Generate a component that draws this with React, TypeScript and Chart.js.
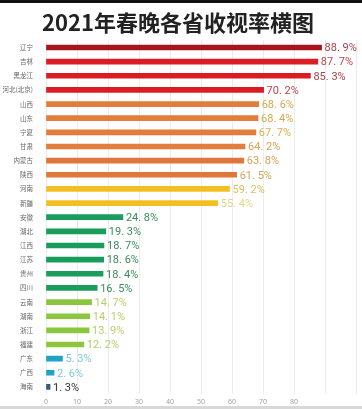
import React, { useEffect, useRef } from "react";
import { Chart, registerables } from "chart.js";

Chart.register(...registerables);

const categories = [
  "辽宁", "吉林", "黑龙江", "河北(北京)", "山西", "山东", "宁夏", "甘肃", "内蒙古", "陕西",
  "河南", "新疆", "安徽", "湖北", "江西", "江苏", "贵州", "四川", "云南", "湖南",
  "浙江", "福建", "广东", "广西", "海南",
];

const values = [
  88.9, 87.7, 85.3, 70.2, 68.6, 68.4, 67.7, 64.2, 63.8, 61.5,
  59.2, 55.4, 24.8, 19.3, 18.7, 18.6, 18.4, 16.5, 14.7, 14.1,
  13.9, 12.2, 5.3, 2.6, 1.3,
];

const valueLabels = [
  "88. 9%", "87. 7%", "85. 3%", "70. 2%", "68. 6%", "68. 4%", "67. 7%", "64. 2%", "63. 8%", "61. 5%",
  "59. 2%", "55. 4%", "24. 8%", "19. 3%", "18. 7%", "18. 6%", "18. 4%", "16. 5%", "14. 7%", "14. 1%",
  "13. 9%", "12. 2%", "5. 3%", "2. 6%", "1. 3%",
];

const barColors = [
  "#a8141c", "#dc1c24", "#dc1c24", "#dc1c24",
  "#e27d3c", "#e27d3c", "#e27d3c", "#e27d3c", "#e0763a", "#e0763a",
  "#f2c024", "#f2c024",
  "#1a9c5c", "#1a9c5c", "#1a9c5c", "#1a9c5c", "#1a9c5c", "#1a9c5c",
  "#8cc63f", "#8cc63f", "#8cc63f", "#8cc63f",
  "#1fa2c8", "#1fa2c8", "#3c5a78",
];

const labelColors = [
  "#a8404c", "#b8444c", "#a8404c", "#b8444c",
  "#d8a848", "#d8a848", "#d8b050", "#d4a450", "#d4a450", "#d0a458",
  "#d8c060", "#e4d48c",
  "#3a8c5c", "#3a8c5c", "#3a8c5c", "#3a8c5c", "#3a8c5c", "#3a8c5c",
  "#b4d06a", "#b4d06a", "#b4d06a", "#b4d06a",
  "#7cc8e0", "#7cc8e0", "#333333",
];

const xTicks = [0, 10, 20, 30, 40, 50, 60, 70, 80, 90, 100];

const titleText = "2021年春晚各省收视率横图";

const valueLabelPlugin = {
  id: "valueLabels",
  afterDatasetsDraw(chart: any) {
    const ctx = chart.ctx;
    const meta = chart.getDatasetMeta(0);
    ctx.save();
    ctx.font = "11px Roboto, 'DejaVu Sans', sans-serif";
    ctx.textAlign = "left";
    ctx.textBaseline = "middle";
    meta.data.forEach((el: any, i: number) => {
      ctx.fillStyle = labelColors[i];
      ctx.fillText(valueLabels[i], el.x + 3, el.y + 1);
    });
    ctx.restore();
  },
};

export default function App() {
  const canvasRef = useRef<HTMLCanvasElement | null>(null);

  useEffect(() => {
    if (!canvasRef.current) return;
    const chart = new Chart(canvasRef.current, {
      type: "bar",
      data: {
        labels: categories,
        datasets: [
          {
            data: values,
            backgroundColor: barColors,
            barThickness: 5,
            borderWidth: 0,
          },
        ],
      },
      options: {
        indexAxis: "y",
        animation: false,
        responsive: true,
        maintainAspectRatio: false,
        layout: { padding: { left: 0, right: 6, top: 0, bottom: 0 } },
        plugins: {
          legend: { display: false },
          tooltip: { enabled: false },
          title: {
            display: true,
            text: titleText,
            color: "#222222",
            font: { size: 22, weight: "bold", family: "'Noto Sans CJK SC', 'Noto Sans', sans-serif" },
            padding: { top: 6, bottom: 5 },
          },
        },
        scales: {
          x: {
            min: 0,
            max: 100,
            afterBuildTicks(scale: any) {
              scale.ticks = xTicks.map((v) => ({ value: v }));
            },
            afterFit(scale: any) {
              scale.height = 15;
            },
            grid: { color: "#ebebeb", drawTicks: false, lineWidth: 1 },
            border: { display: false },
            ticks: {
              color: "#a0a0a0",
              font: { size: 7, family: "'Noto Sans', sans-serif" },
              padding: 4,
              callback: (v: any) => (v === 90 || v === 100 ? "" : String(v)),
            },
          },
          y: {
            afterFit(scale: any) {
              scale.width = 46;
            },
            grid: { display: false },
            border: { display: false },
            ticks: {
              color: "#666666",
              font: { size: 6.5, family: "'Noto Sans CJK SC', sans-serif" },
              padding: 5,
              autoSkip: false,
            },
          },
        },
      },
      plugins: [valueLabelPlugin],
    });
    return () => chart.destroy();
  }, []);

  return (
    <div style={{ position: "fixed", left: 0, top: 0, width: 362, height: 409, background: "#ffffff" }}>
      <div style={{ position: "absolute", left: 0, top: 0, width: 362, height: 3, background: "#111111" }} />
      <div style={{ position: "absolute", left: 0, top: 3, width: 362, height: 406 }}>
        <canvas ref={canvasRef} />
      </div>
      <div style={{ position: "absolute", left: 0, top: 406, width: 362, height: 3, background: "#d8d8d8" }} />
    </div>
  );
}
